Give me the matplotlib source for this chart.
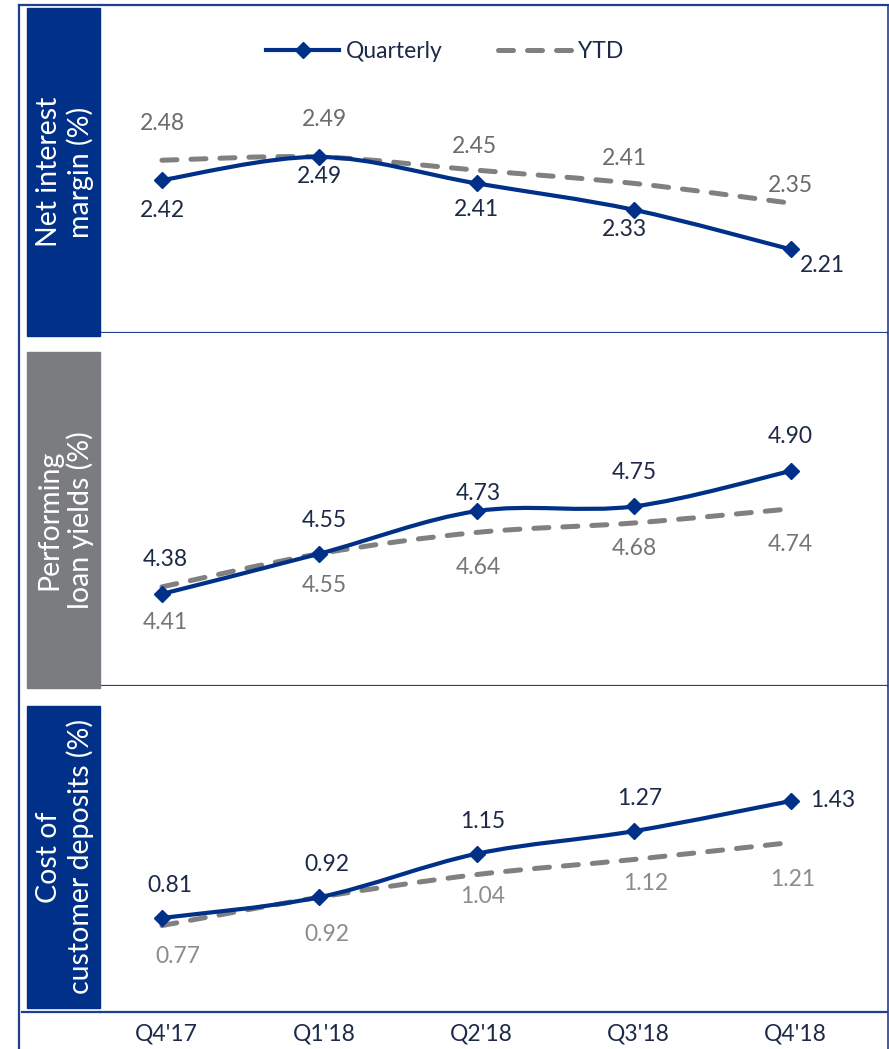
import matplotlib
matplotlib.use("Agg")
import matplotlib.pyplot as plt
from matplotlib.path import Path
from matplotlib.patches import PathPatch, Rectangle
from matplotlib.lines import Line2D

plt.rcParams['font.family'] = ['Lato', 'DejaVu Sans']

quarters = ["Q4'17", "Q1'18", "Q2'18", "Q3'18", "Q4'18"]

nim_quarterly = [2.42, 2.49, 2.41, 2.33, 2.21]
nim_ytd = [2.48, 2.49, 2.45, 2.41, 2.35]

loan_quarterly = [4.38, 4.55, 4.73, 4.75, 4.90]
loan_ytd = [4.41, 4.55, 4.64, 4.68, 4.74]

dep_quarterly = [0.81, 0.92, 1.15, 1.27, 1.43]
dep_ytd = [0.77, 0.92, 1.04, 1.12, 1.21]

panel_titles = ["Net interest\nmargin (%)",
                "Performing\nloan yields (%)",
                "Cost of\ncustomer deposits (%)"]

BLUE = "#003087"
GRAY = "#808080"
NAVY_TXT = "#1c2a48"
FRAME = "#1f3f8f"

W, H = 889, 1049


def fx(px):
    return px / W


def fy(py):
    return 1 - py / H


def smooth_path(x, y):
    # excel style smoothed line (cubic bezier through the points)
    n = len(x)
    verts = [(x[0], y[0])]
    codes = [Path.MOVETO]
    for i in range(n - 1):
        a = i - 1 if i > 0 else i
        d = i + 2 if i + 2 < n else i + 1
        c1 = (x[i] + (x[i + 1] - x[a]) / 6, y[i] + (y[i + 1] - y[a]) / 6)
        c2 = (x[i + 1] - (x[d] - x[i]) / 6, y[i + 1] - (y[d] - y[i]) / 6)
        verts += [c1, c2, (x[i + 1], y[i + 1])]
        codes += [Path.CURVE4] * 3
    return Path(verts, codes)


fig = plt.figure(figsize=(W / 100, H / 100), dpi=100)

# panel pixel extents (top, bottom), label box extents, y limits
panels = [(5, 333), (333, 686), (686, 1012)]
boxes = [(8, 336), (352, 688), (706, 1008)]
box_colors = [BLUE, "#7a7c80", BLUE]
ylims = [(1.957, 2.95), (3.991, 5.483), (0.312, 2.039)]
quarterly = [nim_quarterly, loan_quarterly, dep_quarterly]
ytd = [nim_ytd, loan_ytd, dep_ytd]
ytd_txt_colors = ["#6b6b6b", "#767676", "#8c8c8c"]

# label offsets in pixels (dx, dy down)
q_off = [[(0, 30), (0, 20), (0, 26), (-9, 20), (31, 16)],
         [(3, -34), (5, -33), (2, -18), (1, -34), (-1, -34)],
         [(8, -32), (8, -33), (6, -32), (6, -33), (42, 0)]]
y_off = [[(0, -37), (5, -37), (-2, -24), (-9, -25), (-1, -18)],
         [(3, 36), (5, 32), (2, 35), (1, 26), (-1, 36)],
         [(16, 31), (8, 37), (6, 22), (12, 24), (2, 37)]]

xs = list(range(len(quarters)))
axes = []
for k, (top, bot) in enumerate(panels):
    ax = fig.add_axes([fx(100), fy(bot), (887 - 100) / W, (bot - top) / H])
    ax.set_xlim(-0.394, 4.61)
    ax.set_ylim(*ylims[k])
    for s in ["top", "left", "right"]:
        ax.spines[s].set_visible(False)
    ax.spines["bottom"].set_color(FRAME)
    ax.spines["bottom"].set_linewidth(1.6)
    ax.set_yticks([])
    ax.set_xticks([x + 0.03 for x in xs])
    ax.tick_params(axis="x", length=0, pad=8, labelsize=16.5, labelcolor=NAVY_TXT)
    if k < 2:
        ax.set_xticklabels([])
    else:
        ax.set_xticklabels(quarters)

    ax.add_patch(PathPatch(smooth_path(xs, ytd[k]), fill=False, edgecolor=GRAY,
                           lw=3.6, linestyle=(0, (3.0, 2.8)), capstyle="round"))
    ax.add_patch(PathPatch(smooth_path(xs, quarterly[k]), fill=False, edgecolor=BLUE,
                           lw=3.0, capstyle="round", joinstyle="round"))
    ax.plot(xs, quarterly[k], linestyle="none", marker="D", markersize=8.5,
            color=BLUE)

    for i in xs:
        dx, dy = q_off[k][i]
        ax.annotate(f"{quarterly[k][i]:.2f}", (i, quarterly[k][i]),
                    xytext=(dx, -dy), textcoords="offset pixels",
                    ha="center", va="center", fontsize=16.5, color=NAVY_TXT)
        dx, dy = y_off[k][i]
        ax.annotate(f"{ytd[k][i]:.2f}", (i, ytd[k][i]),
                    xytext=(dx, -dy), textcoords="offset pixels",
                    ha="center", va="center", fontsize=16.5, color=ytd_txt_colors[k])
    axes.append(ax)

# legend in top panel
handles = [Line2D([], [], color=BLUE, lw=3.0, marker="D", markersize=8.5),
           Line2D([], [], color=GRAY, lw=3.6, linestyle=(0, (3.0, 2.8)),
                  dash_capstyle="round")]
leg = axes[0].legend(handles, ["Quarterly", "YTD"], loc="center",
                     bbox_to_anchor=(0.438, 0.857), ncol=2, frameon=False,
                     fontsize=16.5, handlelength=3.2, handletextpad=0.3,
                     columnspacing=2.4)
for t in leg.get_texts():
    t.set_color(NAVY_TXT)

# coloured title boxes on the left
for k, (t, b) in enumerate(boxes):
    fig.add_artist(Rectangle((fx(27), fy(b)), (100 - 27) / W, (b - t) / H,
                             transform=fig.transFigure, color=box_colors[k],
                             zorder=3))
    fig.text(fx(65), fy((t + b) / 2), panel_titles[k], rotation=90,
             ha="center", va="center", color="white", fontsize=20.5,
             linespacing=1.2, zorder=4)

# outer frame
fig.add_artist(Line2D([fx(19), fx(888)], [fy(5), fy(5)], color=FRAME, lw=1.6))
fig.add_artist(Line2D([fx(19), fx(19)], [fy(5), 0], color=FRAME, lw=1.6))
fig.add_artist(Line2D([fx(887.5), fx(887.5)], [fy(5), 0], color=FRAME, lw=1.2))
fig.add_artist(Line2D([fx(22), fx(100)], [fy(1012), fy(1012)], color=FRAME, lw=1.6))

fig.savefig("out.png", dpi=100)
